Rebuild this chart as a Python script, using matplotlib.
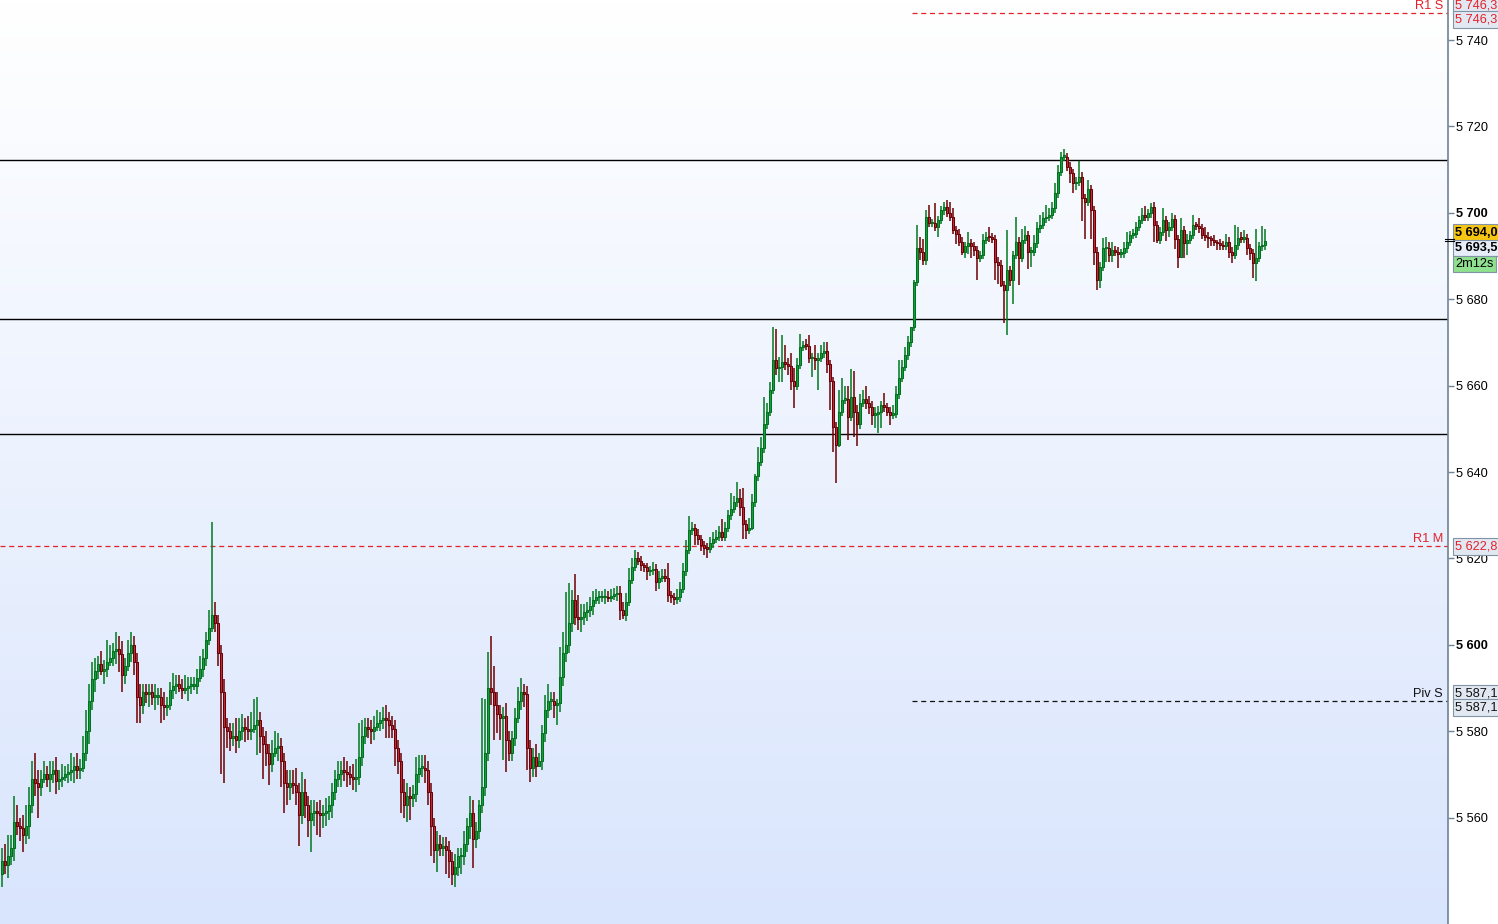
from __future__ import annotations

from pathlib import Path

import matplotlib
matplotlib.use("Agg")
import matplotlib.pyplot as plt
import matplotlib.transforms as mtransforms
import numpy as np
from matplotlib.colors import LinearSegmentedColormap
from matplotlib.ticker import FixedLocator, FuncFormatter

plt.rcParams["font.family"] = ["Liberation Sans", "DejaVu Sans"]

# Close of every candle, 10 per row (left to right)
closes = [
    5550, 5549, 5551, 5553, 5559, 5558, 5557.5, 5556, 5558, 5563,
    5569, 5568, 5567, 5569, 5570, 5569, 5570, 5571, 5568.5, 5569,
    5569.5, 5570, 5570.5, 5571, 5572, 5571, 5571.5, 5575, 5580, 5587,
    5592, 5594, 5595.5, 5594, 5594.5, 5596, 5597, 5598.5, 5599, 5597.8,
    5593, 5595, 5598, 5600, 5596, 5588, 5586, 5589, 5588.5, 5589,
    5588, 5588, 5588, 5586, 5585.5, 5586, 5589.5, 5590.5, 5591, 5590,
    5589.5, 5590, 5590.5, 5590.5, 5590.5, 5592.3, 5594.5, 5597, 5601, 5604,
    5607, 5605, 5598, 5589, 5581, 5580, 5578.5, 5579, 5578, 5580,
    5581, 5580.5, 5580, 5580.5, 5581.5, 5582.5, 5579, 5577, 5575, 5572.5,
    5575, 5576, 5576.5, 5573, 5568, 5567, 5568, 5567.5, 5566, 5560.5,
    5566, 5563, 5559.5, 5561, 5561.5, 5561, 5560.5, 5561, 5561.5, 5563,
    5566, 5569, 5570, 5571, 5570.5, 5570, 5569.5, 5569, 5569.5, 5574,
    5579, 5581, 5580.5, 5580, 5581, 5582, 5582.5, 5583, 5582.5, 5581.5,
    5580.5, 5576, 5573, 5566, 5563, 5565, 5564.5, 5565.5, 5570, 5571.5,
    5571.5, 5571, 5566, 5558, 5552.5, 5554, 5553, 5553.5, 5552.5, 5550,
    5547, 5548.5, 5551, 5551, 5554, 5558, 5561, 5555, 5557, 5563,
    5567, 5575, 5590, 5589, 5586, 5584, 5583, 5583.5, 5578, 5575,
    5578.5, 5583, 5587, 5589, 5588.5, 5576, 5571.5, 5574, 5572, 5573,
    5579.5, 5585, 5587, 5587, 5586, 5586.5, 5592.5, 5598, 5600, 5605,
    5610.4, 5606.5, 5606, 5606.5, 5607.5, 5608, 5609, 5610.4, 5611, 5611,
    5611, 5611, 5610.8, 5611.3, 5611.7, 5612, 5608, 5607, 5610, 5615,
    5618, 5620, 5619.5, 5618.5, 5618, 5617, 5617.2, 5617.6, 5614.5, 5615.5,
    5616, 5615.5, 5611.5, 5611, 5610.5, 5611, 5613, 5617, 5622, 5626.5,
    5627, 5625.5, 5624.5, 5623, 5622.5, 5622.2, 5623.5, 5624.5, 5625, 5626,
    5625, 5627, 5630, 5631.5, 5633, 5634, 5632, 5628, 5626.6, 5627,
    5633, 5639, 5642.4, 5645.5, 5651, 5654, 5659, 5666, 5664, 5664.4,
    5665.5, 5665, 5664.5, 5661, 5660, 5664.8, 5669, 5669.4, 5669.2, 5666.3,
    5666.5, 5666, 5666.5, 5667.5, 5668, 5665, 5661, 5650.5, 5646.3, 5654,
    5656.7, 5657, 5652.8, 5657.4, 5654, 5651, 5656, 5657, 5656, 5655,
    5653.2, 5653.5, 5653.8, 5655.5, 5655, 5654, 5653.2, 5653.5, 5658, 5661.8,
    5664.4, 5667, 5670, 5673.6, 5684, 5691.8, 5691, 5689, 5699, 5697.6,
    5697.6, 5696.8, 5698.3, 5700.6, 5701.4, 5700, 5699, 5696, 5695.2, 5693.3,
    5691, 5692.2, 5693, 5692.2, 5691.4, 5689.5, 5690.2, 5693.7, 5694.5, 5694.3,
    5693.9, 5688.7, 5688, 5683.3, 5682.1, 5686.8, 5684.5, 5690.2, 5693.3, 5689.5,
    5693.7, 5694.9, 5691, 5691, 5692.9, 5696.4, 5697.2, 5698.7, 5699.1, 5699.5,
    5701, 5704.5, 5709.5, 5713, 5713, 5710.7, 5709.1, 5706.8, 5707.2, 5708.4,
    5703.4, 5702.6, 5705.4, 5700.6, 5691, 5684.4, 5687.5, 5691.8, 5691.8, 5690.2,
    5691.4, 5691, 5690.5, 5690.6, 5691.8, 5693.3, 5694.9, 5695.2, 5696.8, 5698.3,
    5699.5, 5699.1, 5699.9, 5701.4, 5697.2, 5693.7, 5695.6, 5698.3, 5696, 5696.8,
    5698.5, 5693.9, 5689.8, 5696, 5693, 5693.7, 5694.9, 5697.2, 5697, 5696.4,
    5694.9, 5694.5, 5694.1, 5693.8, 5693.3, 5692.9, 5692.5, 5692.3, 5693.3, 5691,
    5690.2, 5692.5, 5694.1, 5694, 5694.1, 5691.8, 5690.6, 5688.3, 5689.5, 5692.2,
    5692.5, 5693.5,
]
first_open = 5547

# Upper wick above the body, in points
upper_wick = [
    3, 4, 5, 3, 6, 4, 2, 3, 5, 4,
    4, 6, 3, 2, 3, 2, 3, 2, 3, 2,
    3, 2, 2, 4, 2, 3, 2, 4, 5, 4,
    4, 3, 2, 3, 2, 5, 3, 2, 4, 3,
    3, 2, 3, 3, 2, 2, 3, 2, 2, 2,
    2, 3, 2, 2, 3, 2, 2, 3, 2, 2,
    2, 3, 2, 2, 2, 2, 3, 2, 2, 4,
    21.5, 3, 2, 2, 3, 2, 2, 3, 4, 3,
    3, 2, 3, 4, 6, 5.5, 2, 2, 3, 2,
    3, 4, 3, 2, 2, 3, 3, 3, 4, 2,
    4.5, 3, 2, 3, 2.5, 2, 3, 2, 3, 2,
    2, 2, 3, 2, 3, 2.5, 2, 3, 4, 8,
    3.5, 2, 2, 2, 2.5, 3, 2, 2.5, 3, 2,
    2, 2, 2, 2, 3, 3, 2, 2, 4, 3,
    3, 3, 2, 2, 2, 3, 2, 2, 2, 2,
    2, 3, 2, 2, 3, 2, 4, 3, 2, 1,
    20.7, 12.5, 8.4, 12, 6, 3, 2, 2, 3, 2,
    1.5, 2.3, 3.3, 3.2, 2, 2, 2, 2, 3, 2,
    2, 3.4, 4, 2, 2, 1, 7, 5, 12.3, 9.2,
    2.3, 6, 5, 3, 2, 2, 2, 2, 2, 1.5,
    1.5, 2, 1.5, 1.7, 1.5, 1.5, 1.5, 2, 2, 2.7,
    2, 1.9, 1.5, 1, 0.5, 1, 1, 1.6, 1, 1.5,
    1.5, 1.5, 3.5, 1, 1, 2, 1.5, 2, 2.3, 3.2,
    1.5, 1, 1.3, 1, 1, 1, 1.5, 1.5, 1.5, 1.5,
    3.1, 1.5, 1.2, 3.6, 1.5, 3.7, 2, 4.2, 1, 2.3,
    2, 0.5, 3.4, 2.7, 6.4, 2, 1.9, 7.6, 7, 2.3,
    6.2, 4, 1.5, 3, 3, 1.5, 2.9, 1, 1.5, 2.5,
    1, 3, 1, 2, 2, 2, 1, 1, 1, 5,
    5, 3, 3, 6.4, 6, 1.5, 2, 2, 3, 1.5,
    1.5, 1.5, 1.5, 1, 2.7, 1, 1, 2, 2, 4.1,
    1.6, 2, 1.5, 0, 0.5, 5.4, 2.7, 3, 1.6, 2.8,
    1, 4.6, 1, 1, 1.2, 1.5, 2.5, 2, 1, 1,
    1, 1, 2.5, 1, 1, 1, 1, 1.5, 1, 2.3,
    1, 1, 1, 1, 1, 9.2, 1, 1, 5.8, 1,
    2.5, 2, 1, 1, 2, 1.5, 2.3, 1.5, 2.7, 1.5,
    1.5, 2.3, 1.5, 1, 1.7, 0.9, 1, 1, 1, 3.7,
    1, 1, 2.2, 1, 1, 1, 1, 2.3, 2.7, 1.5,
    1.9, 1, 1, 1, 1.5, 2.3, 1, 1, 1, 1,
    1.5, 2, 1, 0.9, 1, 1, 1, 2.7, 1, 1,
    1.5, 1, 1, 2.7, 1, 1.5, 1, 2.3, 0.6, 1.7,
    1, 1.9, 1, 0.5, 1, 0.5, 1, 1, 1.7, 1,
    1, 4.7, 2.5, 1.5, 2, 1, 1, 1, 6.7, 1,
    4.5, 2.7,
]

# Lower wick below the body, in points
lower_wick = [
    3, 2, 3, 2, 3, 2, 3, 4, 2, 3,
    2, 3, 7, 2, 1, 2, 3, 2, 3, 2,
    2, 1, 2, 2, 3, 2, 2, 1, 2, 3,
    2, 3, 2, 1, 3, 2, 1, 2, 3, 4,
    4, 2, 1, 2, 3, 6, 4, 2, 2, 3,
    2, 3, 2, 4, 3, 2, 1, 2, 2, 1,
    2, 1, 3, 2, 1, 2, 1, 2, 2, 1,
    1, 2, 3, 19, 13, 4, 3, 2, 3, 2,
    2, 3, 2, 2, 1, 7, 4, 8, 3, 5,
    2, 1, 3, 6, 7, 4, 3, 2, 3, 7,
    2, 3, 4, 7.5, 3, 5, 5, 3, 3, 2,
    3, 2, 2, 3, 2, 3, 2, 2.5, 3, 2,
    2, 2, 2, 3, 2, 1, 2, 2, 4, 3,
    2, 4, 3, 5, 3, 4, 5, 2, 2, 2,
    2, 3, 3, 7, 3, 5, 2, 2, 5.5, 4,
    2.6, 3, 2, 4, 2, 2, 3, 6.7, 2, 2,
    2, 2, 2, 3, 8, 4.5, 5, 9.7, 7.4, 2,
    2, 2, 1, 2, 3, 5, 3.2, 2, 2.5, 0.4,
    2, 2, 2, 2, 3, 4.6, 2, 2, 2, 2,
    2, 2, 2.6, 3, 2, 2, 1.5, 2, 1, 1.5,
    1, 1.5, 1, 1, 1, 1.5, 2.3, 1, 1.5, 1,
    1, 1, 1, 1.5, 1.1, 2, 1, 1, 2, 1.5,
    1, 1, 1.5, 1.4, 1.3, 1, 1, 1, 1, 1,
    1, 2.4, 1.5, 1.4, 1.7, 2.2, 1, 1, 1, 1,
    1, 1, 1, 1, 1, 1, 2.3, 3.4, 2, 1,
    0.4, 1, 1, 1, 1, 1, 1, 1, 1.5, 3.1,
    3.5, 1.5, 2, 2, 5.3, 1, 1, 1, 1, 1,
    4.4, 2.5, 7, 1, 1, 2, 6.7, 5.8, 8.8, 0.5,
    1, 1, 5.4, 1, 5.8, 4.9, 1, 1, 1.5, 1.5,
    2.3, 3, 4.5, 3.7, 1, 1, 2.3, 1, 1, 1,
    1, 1, 1, 1, 1, 1, 2, 1, 1, 1,
    1, 1, 2.3, 1, 1, 1, 1, 1, 2.5, 1,
    0.8, 1.5, 1.7, 2.7, 1.5, 5.1, 1, 1, 1, 1,
    1, 4.3, 4.4, 0.4, 7.7, 10.4, 1.5, 5.5, 1, 6.2,
    1, 1, 3.9, 3.5, 1, 1, 1, 1, 1, 1,
    1, 1, 1, 1, 1, 1, 2.3, 2.3, 1.5, 1,
    5.4, 8.6, 1, 6.6, 3, 2.3, 1.9, 1, 3.1, 1.5,
    1.5, 1, 3.3, 1, 1, 1, 1, 1, 1, 1,
    1, 1, 1, 1, 3.9, 0.8, 1, 1, 2.5, 1.5,
    1, 2.3, 2.6, 0.3, 3.4, 2.7, 1, 1, 1, 1,
    1, 1, 2.2, 1.5, 1, 1.5, 1, 1, 1, 1.5,
    1.9, 1, 1, 1, 1, 1.5, 1.5, 3.5, 4, 1,
    1, 1,
]

# Horizontal levels
solid_levels = [5712.2, 5675.4, 5648.8]
pivot_names = ["R1 S", "R1 M", "Piv S"]
pivot_values = [5746.3, 5622.8, 5587.1]
pivot_colors = ["#e3212b", "#e3212b", "#111111"]
pivot_start = [303.3, None, 303.3]  # candle index where the line starts

last_price = 5693.5
ask_price = 5694.0
countdown = "2m12s"

price_ticks = [5560, 5580, 5600, 5620, 5640, 5660, 5680, 5700, 5720, 5740]


def _fmt_price(value: float, decimals: int = 0) -> str:
    """Format a price as '5 746,3' (space thousands, comma decimal)."""
    text = f"{value:,.{decimals}f}"
    return text.replace(",", " ").replace(".", ",")


def _draw_background(ax: plt.Axes, xlim: tuple[float, float], ylim: tuple[float, float]) -> None:
    cmap = LinearSegmentedColormap.from_list("bg", ["#ffffff", "#d9e5fd"])
    grad = np.linspace(0, 1, 256).reshape(-1, 1)
    ax.imshow(grad, cmap=cmap, aspect="auto", origin="upper",
              extent=[xlim[0], xlim[1], ylim[0], ylim[1]], zorder=0)


def _draw_candles(ax: plt.Axes) -> None:
    close = np.array(closes, dtype=float)
    opens = np.concatenate([[first_open], close[:-1]])
    top = np.maximum(opens, close)
    bot = np.minimum(opens, close)
    high = top + np.array(upper_wick, dtype=float)
    low = bot - np.array(lower_wick, dtype=float)
    idx = np.arange(len(close))
    up = close >= opens

    wick_colors = np.where(up, "#00791f", "#6c0000")
    ax.vlines(idx, low, high, colors=wick_colors, linewidth=1.1, zorder=2)

    height = np.maximum(top - bot, 0.35)
    ax.bar(idx[up], height[up], bottom=bot[up], width=0.82,
           color="#12a03e", edgecolor="#03701f", linewidth=0.75, zorder=3)
    ax.bar(idx[~up], height[~up], bottom=bot[~up], width=0.82,
           color="#bd2f3c", edgecolor="#6c0006", linewidth=0.75, zorder=3)


def _price_box(ax: plt.Axes, price: float, text: str, dy: float,
               color: str, face: str, bold: bool = False) -> None:
    trans = mtransforms.blended_transform_factory(ax.transAxes, ax.transData)
    ax.annotate(text, xy=(1.0, price), xycoords=trans,
                xytext=(7, dy), textcoords="offset pixels",
                ha="left", va="center", fontsize=9.2, color=color,
                fontweight="bold" if bold else "normal",
                bbox=dict(boxstyle="square,pad=0.18", facecolor=face,
                          edgecolor="#8193a6", linewidth=0.8),
                annotation_clip=False, zorder=6)


def main(output_path: Path = Path("out.png")) -> None:
    fig = plt.figure(figsize=(14.98, 9.24), dpi=100)
    ax = fig.add_axes([0, 0, 1448 / 1498, 1])

    xlim = (-2 / 3, -2 / 3 + 1448 / 3)
    ylim = (5535.37, 5749.26)
    _draw_background(ax, xlim, ylim)
    ax.set_xlim(*xlim)
    ax.set_ylim(*ylim)

    for level in solid_levels:
        ax.axhline(level, color="black", linewidth=1.0, zorder=1)

    for name, value, color, start in zip(pivot_names, pivot_values, pivot_colors, pivot_start):
        x0 = xlim[0] if start is None else start
        ax.plot([x0, xlim[1]], [value, value], color=color, linewidth=0.9,
                linestyle=(0, (4, 3)), zorder=1)
        ax.annotate(name, xy=(1.0, value),
                    xycoords=mtransforms.blended_transform_factory(ax.transAxes, ax.transData),
                    xytext=(-5, 7), textcoords="offset pixels", ha="right", va="center",
                    fontsize=9.2, color=color, zorder=6)

    _draw_candles(ax)

    # Right price axis
    for side in ("left", "top", "bottom"):
        ax.spines[side].set_visible(False)
    ax.spines["right"].set_color("#6e8396")
    ax.spines["right"].set_linewidth(1.2)
    ax.set_xticks([])
    ax.yaxis.tick_right()
    ax.yaxis.set_major_locator(FixedLocator(price_ticks))
    ax.yaxis.set_major_formatter(FuncFormatter(lambda v, _pos: _fmt_price(v)))
    ax.tick_params(axis="y", direction="out", length=4, width=1, color="#6e8396",
                   labelsize=9.2, pad=2, labelcolor="black")
    for label, tick in zip(ax.get_yticklabels(), price_ticks):
        if tick % 100 == 0:
            label.set_fontweight("bold")

    # Pivot value boxes
    _price_box(ax, pivot_values[0], _fmt_price(pivot_values[0], 1), 7, "#e3212b", "#e2e8f2")
    _price_box(ax, pivot_values[0], _fmt_price(pivot_values[0], 1), -7, "#e3212b", "#e2e8f2")
    _price_box(ax, pivot_values[1], _fmt_price(pivot_values[1], 1), 0, "#e3212b", "#e2e8f2")
    _price_box(ax, pivot_values[2], _fmt_price(pivot_values[2], 1), 7, "#111111", "#e2e8f2")
    _price_box(ax, pivot_values[2], _fmt_price(pivot_values[2], 1), -7, "#111111", "#e2e8f2")

    # Current price boxes
    _price_box(ax, ask_price, _fmt_price(ask_price, 1), 6, "black", "#f7c613", bold=True)
    _price_box(ax, last_price, _fmt_price(last_price, 1), -7, "black", "#e7eefa", bold=True)
    _price_box(ax, last_price, countdown, -23, "black", "#8fe08f")

    trans = mtransforms.blended_transform_factory(ax.transAxes, ax.transData)
    for p in (ask_price, last_price):
        ax.plot([0.998, 1.004], [p, p], color="black", linewidth=0.8,
                transform=trans, clip_on=False, zorder=7)

    fig.savefig(output_path, dpi=100)
    plt.close(fig)


if __name__ == "__main__":
    main()
